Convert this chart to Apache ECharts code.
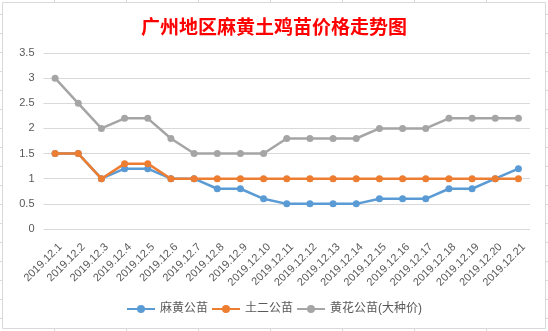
<!DOCTYPE html>
<html>
<head>
<meta charset="utf-8">
<script src="https://cdn.jsdelivr.net/npm/echarts@6/dist/echarts.min.js"></script>
<style>
html,body{margin:0;padding:0;background:#fff;}
#c{width:548px;height:331px;}
</style>
</head>
<body>
<div id="c"></div>
<script>
var titleText = '广州地区麻黄土鸡苗价格走势图';
var categories = ['2019.12.1','2019.12.2','2019.12.3','2019.12.4','2019.12.5','2019.12.6','2019.12.7','2019.12.8','2019.12.9','2019.12.10','2019.12.11','2019.12.12','2019.12.13','2019.12.14','2019.12.15','2019.12.16','2019.12.17','2019.12.18','2019.12.19','2019.12.20','2019.12.21'];
var seriesNames = ['麻黄公苗','土二公苗','黄花公苗(大种价)'];
var mahuang = [1.5,1.5,1.0,1.2,1.2,1.0,1.0,0.8,0.8,0.6,0.5,0.5,0.5,0.5,0.6,0.6,0.6,0.8,0.8,1.0,1.2];
var tuer = [1.5,1.5,1.0,1.3,1.3,1.0,1.0,1.0,1.0,1.0,1.0,1.0,1.0,1.0,1.0,1.0,1.0,1.0,1.0,1.0,1.0];
var huanghua = [3.0,2.5,2.0,2.2,2.2,1.8,1.5,1.5,1.5,1.5,1.8,1.8,1.8,1.8,2.0,2.0,2.0,2.2,2.2,2.2,2.2];
var yMin = 0, yMax = 3.5, yStep = 0.5;

var colors = ['#5B9BD5','#ED7D31','#A5A5A5'];
var font = '"Liberation Sans","Noto Sans CJK SC",sans-serif';

// spreadsheet decoration around the chart object
var deco = [];
deco.push({type:'rect', shape:{x:2.5,y:2.5,width:543,height:326}, style:{fill:'#fff',stroke:'#D9D9D9',lineWidth:1}, z:-10});
for (var yy = 14; yy < 331; yy += 19) {
  deco.push({type:'line', shape:{x1:0,y1:yy+0.5,x2:2,y2:yy+0.5}, style:{stroke:'#D9D9D9',lineWidth:1}, z:-10});
  deco.push({type:'line', shape:{x1:546,y1:yy+0.5,x2:548,y2:yy+0.5}, style:{stroke:'#D9D9D9',lineWidth:1}, z:-10});
}
for (var k = 0; k < 7; k++) {
  var xx = Math.round(53.6 + 72.1*k) + 0.5;
  deco.push({type:'line', shape:{x1:xx,y1:0,x2:xx,y2:2}, style:{stroke:'#D9D9D9',lineWidth:1}, z:-10});
  deco.push({type:'line', shape:{x1:xx,y1:329,x2:xx,y2:331}, style:{stroke:'#D9D9D9',lineWidth:1}, z:-10});
}

function mk(i, data, z) {
  return {
    name: seriesNames[i], type:'line', data:data, z:z,
    symbol:'circle', symbolSize:7, showSymbol:true,
    itemStyle:{color:colors[i]},
    lineStyle:{color:colors[i], width:2.5},
    emphasis:{disabled:true}
  };
}

var chart = echarts.init(document.getElementById('c'));
chart.setOption({
  animation:false,
  backgroundColor:'#fff',
  color: colors,
  title:{
    text:titleText, left:'center', top:12,
    textStyle:{color:'#FF0000', fontSize:19, fontWeight:'bold', fontFamily:'"Noto Sans CJK SC",sans-serif'}
  },
  graphic: deco,
  grid:{left:43.5, right:18, top:53, bottom:102, containLabel:false},
  legend:{
    data:seriesNames, bottom:11, left:'center', itemGap:3, itemWidth:28, itemHeight:10,
    textStyle:{color:'#595959', fontSize:12, fontFamily:font}
  },
  xAxis:{
    type:'category', data:categories, boundaryGap:true,
    axisLine:{show:false}, axisTick:{show:false},
    axisLabel:{rotate:45, interval:0, color:'#595959', fontSize:11, fontFamily:font, margin:11,
      verticalAlign:'top', lineHeight:15}
  },
  yAxis:{
    type:'value', min:yMin, max:yMax, interval:yStep,
    axisLine:{show:false}, axisTick:{show:false},
    splitLine:{lineStyle:{color:'#D9D9D9', width:1}},
    axisLabel:{color:'#595959', fontSize:11, fontFamily:font, margin:9}
  },
  series:[ mk(0, mahuang, 2), mk(1, tuer, 3), mk(2, huanghua, 4) ]
});
</script>
</body>
</html>
